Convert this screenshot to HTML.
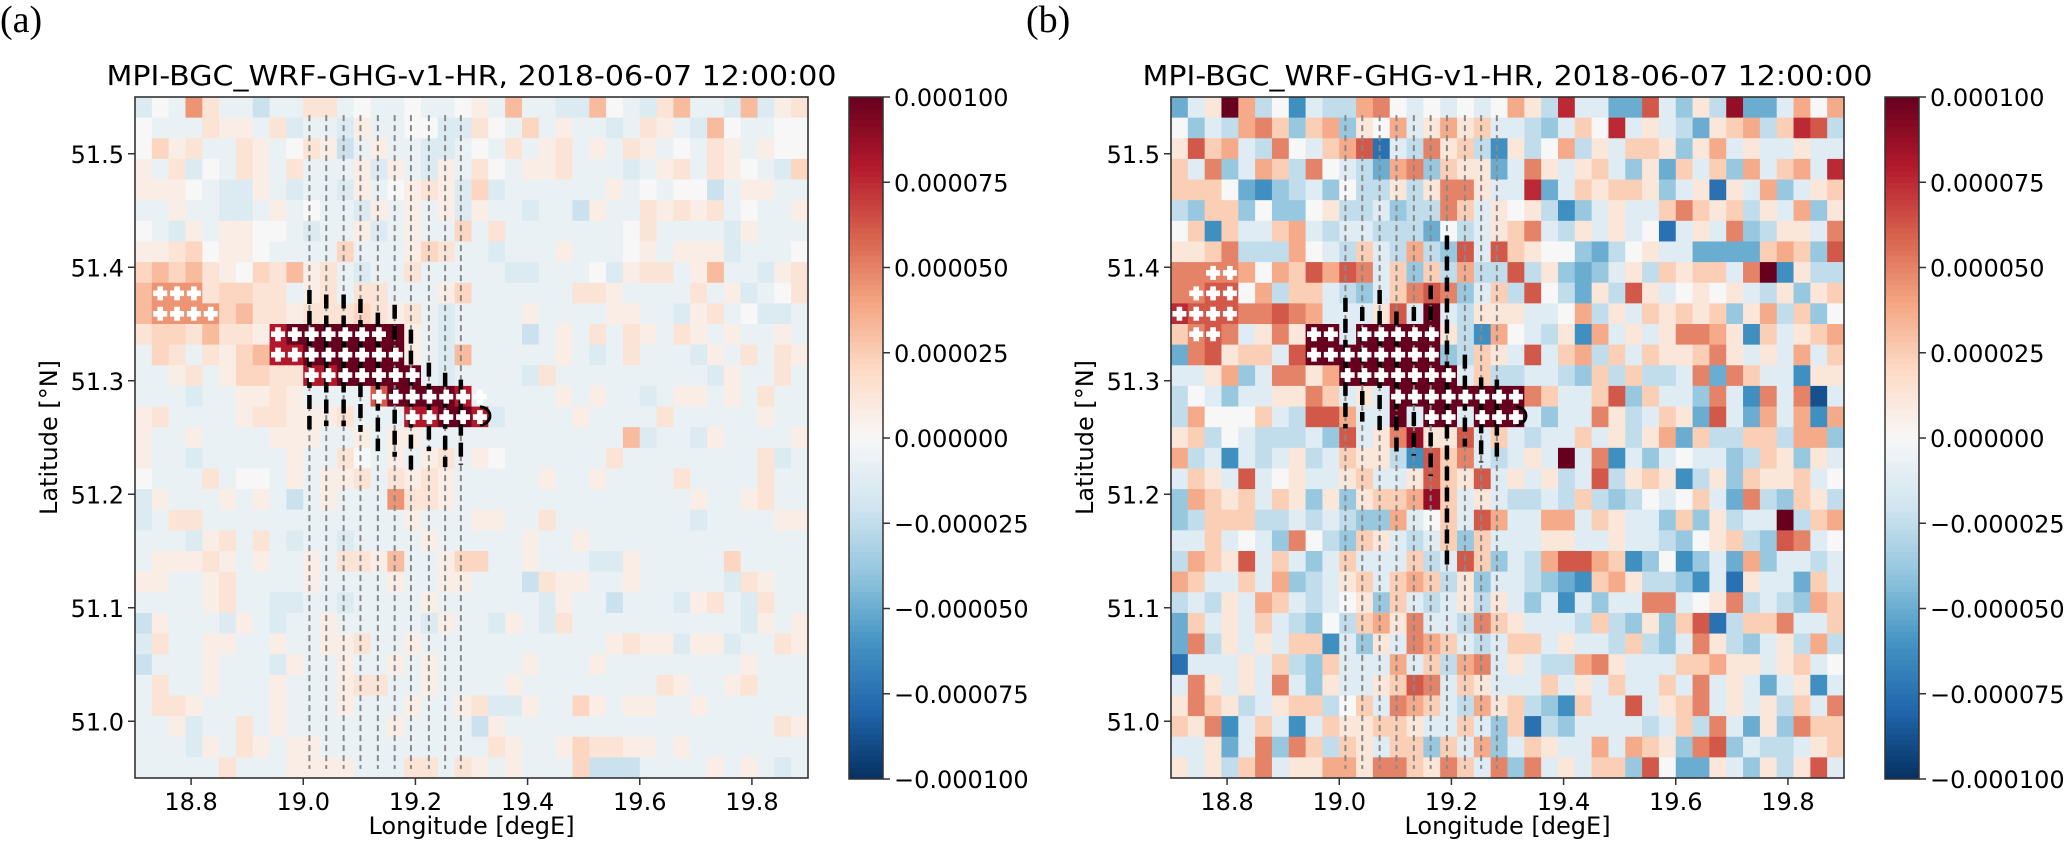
<!DOCTYPE html>
<html><head><meta charset="utf-8">
<style>
html,body{margin:0;padding:0;background:#fff;}
svg{display:block;}
text{font-family:"DejaVu Sans","Liberation Sans",sans-serif;fill:#000;}
</style></head>
<body>
<svg id="fig" width="2067" height="841" viewBox="0 0 2067 841" xmlns="http://www.w3.org/2000/svg">
<text x="0" y="32" style="font-family:'Liberation Serif',serif;font-size:38px">(a)</text>
<text x="1026" y="32" style="font-family:'Liberation Serif',serif;font-size:38px">(b)</text>
</svg>
<script>
// ---- data ----
const lonTicks = [18.8, 19.0, 19.2, 19.4, 19.6, 19.8];
const latTicks = [51.0, 51.1, 51.2, 51.3, 51.4, 51.5];
const cbTicks = [-0.0001, -0.000075, -0.00005, -0.000025, 0, 0.000025, 0.00005, 0.000075, 0.0001];
const cbLabels = ["\u22120.000100","\u22120.000075","\u22120.000050","\u22120.000025","0.000000","0.000025","0.000050","0.000075","0.000100"];
const titleText = "MPI-BGC_WRF-GHG-v1-HR, 2018-06-07 12:00:00";
// level values (x1e-6) for chars a..q
const levelsA = [-100,-80,-62,-45,-32,-22,-14,-7,0,7,14,22,32,45,62,80,100];
const levelsB = [-100,-88,-75,-62,-50,-38,-25,-12,0,12,25,38,50,62,75,88,100];
const gridA = [
"gihnkhhfhh kkhihhihhi jhmhhggmih gkmhhgmgjk",
"ihhhkjjhkg hhgjhhiigg kihlhjhhgh kjhgmihhii",
"iljkhhkjhi kjfhjhhggh ihkhjkhjhk jhihkjhjii",
"jhkgihkjhk hhhjgjhgjh kihjjkhhhg hjkhkjihgl",
"jjjihggjhg hhgjhijkjg lghhhhhhjh ihiifhjjhh",
"hhjhhgghjh ihhgjhjhjg jhhghhfjhh kjkjkhihhj",
"ihgjhjjiih ghhjghjhhl hkhhhhhhhi khhhhgjhhh",
"jjklijjihh hhlhhhjlkh hghhhjhhhi jhjjjghhhi",
"lmlmkjilkm jkhghhkhhh hhgghhhigj kkhjmhhgjk",
"mnnnkllkkh jkhkkhhhjl hhhhhhkkjh hhhkhjghik",
"mnnnnlmkkj kkklkjkhgh hhhjhhhhjj hhgjkhiggh",
"kllkmkkjpq qqqqqqjhgh hhhfhjhkhk jhkjhjhhjh",
"hlkhkjlmpp qqqqqqjhgm hhhhhjhghk hhhgjhkhkj",
"hhjkhjllkk ppqqqqqhgh hhhgkhhhhh hhhhgjhhkh",
"hhhghhjjkj hhhhoqqqqp hhhhhjhjhh ghjjhjhkhh",
"jkhhhhjkkj jjkhhhppqq pghhhhjhhh hkhhhhhjhh",
"jhhjhhhhjj jhhjhjjhhh hhhhhhhhhm ghhgjhhhhj",
"jhhghhhhhj hhkihjhjkh jihhhhhhkh hhhhhhhkgh",
"ihhhkhiihj hjjkhkjkjh hhhhjhhjhh hhkhhhhkhh",
"gjhhhjhjhf hjhhhnkkjh hhhhhhhhhh hhhjhhjkhh",
"ghkkhhhhhh hhhhhhjhhh jjhhkhhhhh hhhghhhhjj",
"hhhgjkhkhg hhghhhhjhh hhhjhhjhhh hhhhhhhhhh",
"hjjjkjhjhh jhkkjmhhjl lhhjhhhggj hhhhhlhhhh",
"jjhhjkhhhh jhhhhjhhjj hhhfkjjhhj hhhhhgkjhh",
"hhhhjkhhgg hhghhhhjhh hhhhgjhhfh hhgjkhgkhh",
"fjhhhgjhgh hjhhhhhgjh hgjhgkhhhh hhhhhhgjhj",
"gkhhjjhhjh hjjkhhjhhh hhhhhhhhjk jjgjjghhkj",
"fhhhjhhhgj hhjhhjhjhh hhhjhhhjhh hhhhhhjhhh",
"hkhhjhhhjh hhjkkhhjhh hhjhhhhhhh hkjhhjkhhh",
"hkkjhhhhjh hhjhhhjhhj kggjhhljhj jhhjhhhhhh",
"hhjghhkhjh hhhhhjhhhh fjhhhhhhhh hhhhhhhhkj",
"hhhgjhkjhj jhhhhhhhhh hkjhhjlkkj jhjhhhhhhh",
"hhhhhkhhhj jjjhhhkkhk jhjhhhlfff hhhhjhjhgh"];
const gridB = [
"ehjqlgidhg glmihihihi ljgohheenh fjgpeehlil",
"ifhglmkfkl fjilhjljkh hgfhkiohjh gejklgkong",
"jnklhgmihk lnchgmjkgd jgilgjhkkj fjlhjhhjhh",
"khmfhlkgmi hgelmfkjje hmjhjkhfje khkflhklho",
"kkkiedfghf iggjgjmmjh hoehkjkkjf hjcjhlfhjk",
"gfkkfiffij gghfggmkhj ijgdfhjhhk mkjkgjhlfj",
"ikdkhhklhg hhgggeighj kmhgjhjhic hjhmfgjjhm",
"jjkmggglih gkhglgfnhn kjiifegijh heeeeklkfn",
"mmmmlilknl nmhkfkglgg ngjfefhjgk jkkhmqdjgg",
"mmnnilgkkh gfhkmnmfhk gnigejgnjh ijijhgjfjk",
"onnnmmnmlh hhjnhqhgjj jhhilgjhkj kjkfjlgkfi",
"kmnmhjmjqq hqqqqqjgdl ihgjdlhjhj mmljdkhjkl",
"emnjkkhnqq qqqqqqfgkj hnhklgkhkj jkmjhjhlhk",
"hhjlfhmmjl qqqqqqqhkg ghhgfkgkgg hmemkhhdjj",
"gihfhhjjmk hjhqqqqqqq qmkhhknfkh hfmhdmhmbh",
"gliiikhgnn lhhqhqqhqq qhfhhmjghk jenhelhldl",
"jkgihggghf nhjmpjjnhk hghhkhjgjl ekggkkgllf",
"lghdhghjgh kjjgdnkmhg hjhqhmdhfh ihhfgkjfjh",
"hkjhnhijhh jkhhjnkjnh jhjghngjkj dgjfkjjkhi",
"flkjkhkjfj fjkklpkhjh gghgkgfgih ikhemgfkjg",
"fgkkkgghgh gfflhikhnl hhllhkjhhf kfjghhqgkl",
"hhkhihfmig fkjhghkfkh hhjjhhjhhg fijkgfnmhi",
"glkjnhkhfh khhhkghnkf hglnnlkdfi dfhelfhhgh",
"lkhhkhlfgh jkhklkgjfh hgfedkljgg fdhcjhhekh",
"ghgjhlkhgh ijfkhghjgj hfhdhfhhmm hijmghgflk",
"ekhjhkhgfi gkljmhhgmk jhhhgkgfjf kncgkkmhhk",
"emgjhjhkkd hfjhmlkhgh kkhjhhgkgf hmjgfhjglg",
"chhhjhkgfk hhhlhkglmh jhgglmjhhh kkljjhjkhi",
"hmjhjhmhfj hhjknmhkjh hhkhjhkhhk hmhjhehjdh",
"jmkjghjkkg ikhmlkhglj kgfdkhhnhj kmhjhjgkhm",
"kjmdhkhdhk jjkkjhhkhf kcgfhhhhgh kgmhejfmkk",
"hhjehmfmkg kjhkkfkhlf hkjhhlhlkj fmnfhgghjk",
"jhjgkmhjjl ljmmkjmkhm fmhjhkkfni eejhfjgjnh"];
const plusLatA = [51.377, 51.359, 51.341, 51.323, 51.305, 51.286, 51.268];
const plusLonA = [
 [18.745,18.775,18.805],
 [18.745,18.775,18.805,18.835],
 [18.955,18.985,19.015,19.045,19.075,19.105,19.135],
 [18.955,18.985,19.015,19.045,19.075,19.105,19.135,19.165],
 [19.015,19.045,19.075,19.105,19.135,19.165,19.195],
 [19.135,19.165,19.195,19.225,19.255,19.285,19.315],
 [19.195,19.225,19.255,19.285,19.315]];
const plusLatB = [51.395, 51.377, 51.359, 51.341, 51.323, 51.305, 51.286, 51.268];
const plusLonB = [
 [18.775,18.805],
 [18.745,18.775,18.805],
 [18.715,18.745,18.775,18.805],
 [18.745,18.775,18.955,18.985,19.045,19.075,19.105,19.135,19.165],
 [18.955,18.985,19.015,19.045,19.075,19.105,19.135,19.165],
 [19.015,19.045,19.075,19.105,19.135,19.165,19.195],
 [19.105,19.135,19.165,19.195,19.225,19.255,19.285,19.315],
 [19.165,19.195,19.255,19.285,19.315]];
const trackLon = [19.011,19.041,19.072,19.102,19.133,19.163,19.192,19.224,19.253,19.281];
const trackTopLat = 51.534, trackBotLat = 50.958;
const blackTopA = [51.380,51.376,51.376,51.372,51.360,51.367,51.345,51.316,51.307,51.301];
const blackBotA = [51.257,51.260,51.260,51.255,51.238,51.233,51.219,51.238,51.224,51.226];
const blackTopB = [51.373,51.365,51.380,51.361,51.365,51.384,51.428,51.323,51.303,51.301];
const blackBotB = [51.258,51.264,51.255,51.234,51.234,51.216,51.138,51.242,51.228,51.228];

// ---- drawing ----
const NS = "http://www.w3.org/2000/svg";
const svg = document.getElementById('fig');
function mk(tag, attrs, parent){ const e=document.createElementNS(NS,tag); for(const k in attrs) e.setAttribute(k,attrs[k]); (parent||svg).appendChild(e); return e; }
const stops = ["#053061","#2166ac","#4393c3","#92c5de","#d1e5f0","#f7f7f7","#fddbc7","#f4a582","#d6604d","#b2182b","#67001f"];
function hex(h){return [parseInt(h.substr(1,2),16),parseInt(h.substr(3,2),16),parseInt(h.substr(5,2),16)];}
function cmap(v){ let t=(v/0.0001+1)/2*10; t=Math.max(0,Math.min(10,t)); const i=Math.min(9,Math.floor(t)), f=t-i; const a=hex(stops[i]), b=hex(stops[i+1]); return "rgb("+a.map((x,k)=>Math.round(x+(b[k]-x)*f)).join(",")+")"; }
const LON0=18.7, LON1=19.9, LAT0=50.95, LAT1=51.55, NC=40, NR=33;

function panel(dx, grid, levels, plusLat, plusLon, bTop, bBot, id){
  const x0=135+dx, x1=808+dx, y0=97, y1=778;
  const X = lon => x0 + (lon-LON0)/(LON1-LON0)*(x1-x0);
  const Y = lat => y0 + (LAT1-lat)/(LAT1-LAT0)*(y1-y0);
  const g = mk('g',{});
  
  
  const hm = mk('g',{},g);
  
  
  const dLon=(LON1-LON0)/NC, dLat=(LAT1-LAT0)/NR;
  grid.forEach((rowStr, r) => {
    const row = rowStr.replace(/ /g,'');
    for(let c=0;c<NC;c++){
      const ch = row[c]||'i';
      const idx = Math.max(0, Math.min(16, ch.charCodeAt(0)-97));
      const v = levels[idx]*1e-6;
      const lonA=LON0+c*dLon, latA=LAT1-r*dLat;
      const xa=X(lonA), xb=X(lonA+dLon), ya=Y(latA), yb=Y(latA-dLat);
      const cell = mk('rect',{x:xa.toFixed(2),y:ya.toFixed(2),width:(xb-xa+0.4).toFixed(2),height:(yb-ya+0.4).toFixed(2),fill:cmap(v)},hm);
      
      
    }
  });
  trackLon.forEach((lon,i) => {
    const l = mk('line',{x1:X(lon),x2:X(lon),y1:Y(trackTopLat),y2:Y(trackBotLat),stroke:'#888',"stroke-width":2,"stroke-dasharray":"6,4"},g);
    
    
  });
  trackLon.forEach((lon,i) => {
    const l = mk('line',{x1:X(lon),x2:X(lon),y1:Y(bTop[i]),y2:Y(bBot[i]),stroke:'#000',"stroke-width":4.5,"stroke-dasharray":"14,7"},g);
    
    
  });
  const lp = mk('path',{d:`M ${X(19.315)} ${Y(51.277)} a 10 9 0 1 1 0 18`,fill:'none',stroke:'#000','stroke-width':3},g);
  
  
  plusLat.forEach((lat,i) => {
    plusLon[i].forEach(lon => {
      const cx=X(lon), cy=Y(lat);
      const p = mk('path',{d:`M${cx-2.8},${cy-7}h5.6v4.2h4.2v5.6h-4.2v4.2h-5.6v-4.2h-4.2v-5.6h4.2z`,fill:'#fff'},g);
      
      
    });
  });
  const fr = mk('rect',{x:x0,y:y0,width:x1-x0,height:y1-y0,fill:'none',stroke:'#333','stroke-width':1.6},g);
  
  
  lonTicks.forEach(v => {
    const x=X(v);
    const t = mk('line',{x1:x,x2:x,y1:y1,y2:y1+7,stroke:'#333','stroke-width':1.5},g);
    
    
    const tx = mk('text',{x:x,y:y1+32,'text-anchor':'middle','font-size':24},g);
    tx.textContent = v.toFixed(1);
    
    
  });
  latTicks.forEach(v => {
    const y=Y(v);
    const t = mk('line',{x1:x0-7,x2:x0,y1:y,y2:y,stroke:'#333','stroke-width':1.5},g);
    
    
    const tx = mk('text',{x:x0-11,y:y+9,'text-anchor':'end','font-size':24},g);
    tx.textContent = v.toFixed(1);
    
    
  });
  const ti = mk('text',{x:(x0+x1)/2,y:85,'text-anchor':'middle','font-size':28,textLength:730,lengthAdjust:'spacingAndGlyphs'},g);
  ti.textContent = titleText;
  
  
  const xl = mk('text',{x:(x0+x1)/2,y:834,'text-anchor':'middle','font-size':24},g);
  xl.textContent = "Longitude [degE]";
  
  
  const yl = mk('text',{x:0,y:0,'text-anchor':'middle','font-size':24,transform:`translate(${57+dx},${(y0+y1)/2}) rotate(-90)`},g);
  yl.textContent = "Latitude [\u00B0N]";
  
  
  const cx0=849+dx, cx1=883+dx, cy0=97, cy1=779;
  const CB = v => cy1 - (v+0.0001)/0.0002*(cy1-cy0);
  const cb = mk('g',{},g);
  
  
  const N=120;
  for(let k=0;k<N;k++){
    const v=-0.0001+(k+0.5)/N*0.0002;
    const ya=CB(-0.0001+(k+1)/N*0.0002), yb=CB(-0.0001+k/N*0.0002);
    mk('rect',{x:cx0,y:ya,width:cx1-cx0,height:yb-ya+0.5,fill:cmap(v)},cb);
  }
  mk('rect',{x:cx0,y:cy0,width:cx1-cx0,height:cy1-cy0,fill:'none',stroke:'#333','stroke-width':1.5},cb);
  cbTicks.forEach((v,i) => {
    const y=CB(v);
    const t = mk('line',{x1:cx1,x2:cx1+7,y1:y,y2:y,stroke:'#333','stroke-width':1.5},cb);
    
    
    const tx = mk('text',{x:cx1+11,y:y+9,'font-size':24},cb);
    tx.textContent = cbLabels[i];
    
    
  });
}
panel(0, gridA, levelsA, plusLatA, plusLonA, blackTopA, blackBotA, 'a');
panel(1036, gridB, levelsB, plusLatB, plusLonB, blackTopB, blackBotB, 'b');
</script>
</body></html>
